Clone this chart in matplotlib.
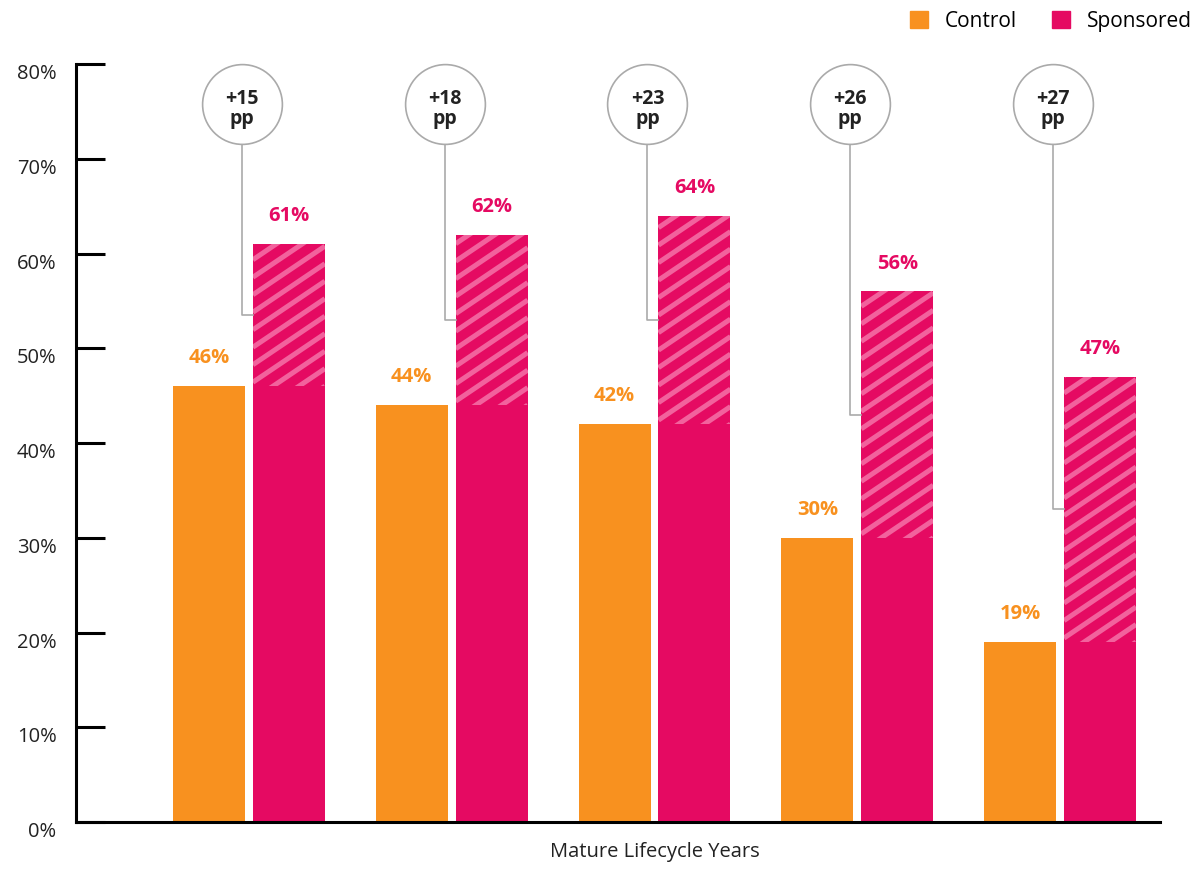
import matplotlib.pyplot as plt
from matplotlib.patches import Patch
import numpy as np

# Data
groups = ['1', '2', '3', '4', '5']
control = [46, 44, 42, 30, 19]
sponsored = [61, 62, 64, 56, 47]
uplift_labels = ['+15\npp', '+18\npp', '+23\npp', '+26\npp', '+27\npp']
yticks = [0, 10, 20, 30, 40, 50, 60, 70, 80]

ORANGE = '#F8911F'
PINK = '#E50A62'
STRIPE = '#F2629D'
GREY = '#AAAAAA'

plt.rcParams['font.family'] = ['Open Sans', 'DejaVu Sans']

fig = plt.figure(figsize=(12, 8.76), dpi=100)
ax = fig.add_axes([0.0633, 0.0616, 0.9034, 0.8653])

x = np.arange(len(groups))
w = 0.355
off = 0.197

ax.set_xlim(-0.853, 4.493)
ax.set_ylim(0, 80)

# Bars
ax.bar(x - off, control, width=w, color=ORANGE)
ax.bar(x + off, control, width=w, color=PINK)
gain = [s - c for s, c in zip(sponsored, control)]
hatched = ax.bar(x + off, gain, bottom=control, width=w, color=PINK, linewidth=0)

# Diagonal stripes on the uplift part (drawn in pixel space, clipped to each bar)
angle = np.deg2rad(34)
spacing = 17.5  # vertical px between stripes
tr = ax.transData
inv = tr.inverted()
for rect in hatched:
    x0, y0 = rect.get_x(), rect.get_y()
    x1, y1 = x0 + rect.get_width(), y0 + rect.get_height()
    (px0, py0), (px1, py1) = tr.transform([(x0, y0), (x1, y1)])
    rise = (px1 - px0) * np.tan(angle)
    for s in np.arange(py0 - rise, py1 + spacing, spacing):
        pts = inv.transform([(px0, s), (px1, s + rise)])
        ln, = ax.plot(pts[:, 0], pts[:, 1], color=STRIPE, lw=3.6,
                      solid_capstyle='butt', zorder=2.5)
        ln.set_clip_path(rect)

# Value labels
for xi, c, s in zip(x, control, sponsored):
    ax.annotate(f'{c}%', (xi - off, c), xytext=(0, 20), textcoords='offset points',
                ha='center', va='center', color=ORANGE, fontsize=14.5, fontweight='bold')
    ax.annotate(f'{s}%', (xi + off, s), xytext=(0, 20), textcoords='offset points',
                ha='center', va='center', color=PINK, fontsize=14.5, fontweight='bold')

# Bubbles with connector lines
bx = x - 0.035
by = 75.8
for xi, b, c, s, lab in zip(x, bx, control, sponsored, uplift_labels):
    mid = (c + s) / 2
    ax.plot([b, b, xi + off - w / 2], [by - 4, mid, mid], color=GREY, lw=1.2,
            zorder=1, clip_on=False)
    ax.scatter([b], [by], s=3300, facecolor='white', edgecolor=GREY,
               linewidth=1.2, zorder=3, clip_on=False)
    ax.text(b, by - 0.5, lab, ha='center', va='center', fontsize=14,
            fontweight='bold', color='#222222', linespacing=1.0, zorder=4)

# Axes styling
ax.set_yticks(yticks)
ax.set_yticklabels([f'{t}%' for t in yticks], fontsize=14.5, color='#222222', va='top')
ax.set_xticks([])
ax.tick_params(axis='y', direction='in', length=21, width=2.2, pad=14)
for side in ['top', 'right']:
    ax.spines[side].set_visible(False)
for side in ['left', 'bottom']:
    ax.spines[side].set_linewidth(2.2)
    ax.spines[side].set_color('black')

ax.text(2, -0.026, 'Mature Lifecycle Years', transform=ax.get_xaxis_transform(),
        ha='center', va='top', fontsize=14.5, color='#222222')

# Legend
handles = [Patch(color=ORANGE, label='Control'), Patch(color=PINK, label='Sponsored')]
fig.legend(handles=handles, loc='upper right', bbox_to_anchor=(1.009, 1.0094), ncol=2,
           frameon=False, fontsize=15, handlelength=0.9, handleheight=0.9,
           columnspacing=1.65, handletextpad=0.8)

plt.savefig('out.png', dpi=100)
